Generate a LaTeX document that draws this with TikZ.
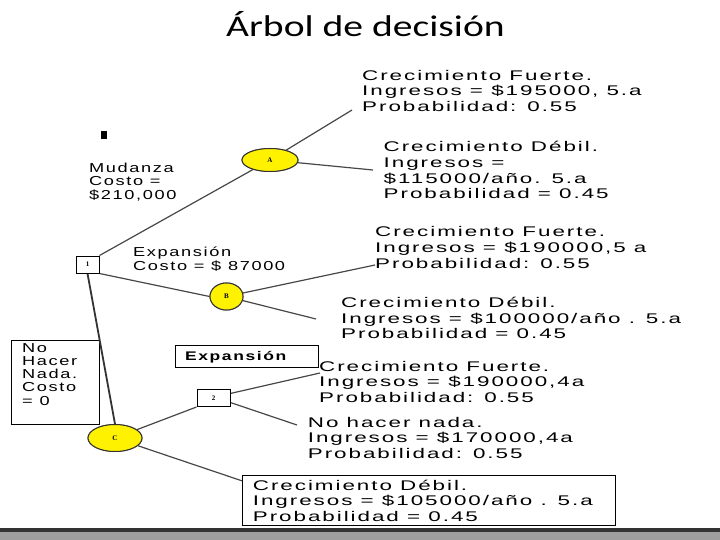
\documentclass[tikz,border=0pt]{standalone}
\usepackage{fontspec}
\setmainfont{Carlito}
\newfontfamily\titlefont[FakeStretch=1.32]{Carlito}
\newfontfamily\arialw[FakeStretch=1.6,LetterSpace=14]{Liberation Sans}
\newfontfamily\arials[FakeStretch=1.4,LetterSpace=12.5]{Liberation Sans}
\newfontfamily\tagfont{Liberation Serif}
\usetikzlibrary{shapes.geometric}

\tikzset{branch/.style={draw=black!72, line width=1.2pt}}
\tikzset{trunk/.style={draw=black!80, line width=1.8pt}}
\tikzset{chance/.style={ellipse, draw=black!80, fill=yellow, line width=1pt, inner sep=0pt,
                        font=\tagfont\bfseries\fontsize{7}{7}\selectfont}}
\tikzset{decision/.style={rectangle, draw=black, line width=1pt, fill=white, inner sep=0pt,
                          font=\tagfont\bfseries\fontsize{7}{7}\selectfont}}
\tikzset{frame/.style={draw, line width=1pt, anchor=north west, inner sep=0pt}}
% multi-line texts are placed by the baseline of their last line
\tikzset{outcome/.style={anchor=base west, align=left, inner sep=0pt,
                         font=\arialw\fontsize{14}{15.8}\selectfont}}
\tikzset{cost/.style={anchor=base west, align=left, inner sep=0pt,
                      font=\arials\fontsize{13}{13.5}\selectfont}}

\begin{document}
\begin{tikzpicture}[x=1pt, y=-1pt]
\useasboundingbox (0,0) rectangle (720,540);

%title
\node[font=\titlefont\fontsize{30}{34}\selectfont, anchor=base] (title) at (365.5,37) {Árbol de decisión};
\node[fill=black, minimum width=6pt, minimum height=8pt, inner sep=0pt] (mark) at (103.7,134.7) {};

%decision and chance nodes
\node[decision, minimum width=23pt, minimum height=17pt] (d1) at (87.5,264.5) {1};
\node[decision, minimum width=33pt, minimum height=17pt] (d2) at (213.5,398) {2};
\node[chance, minimum width=56pt, minimum height=23pt] (cA) at (270,160) {A};
\node[chance, minimum width=33pt, minimum height=27pt] (cB) at (226.5,296.5) {B};
\node[chance, minimum width=54pt, minimum height=27pt] (cC) at (115,438) {C};

%costs
\node[cost] (mudanza) at (89,199.5) {Mudanza\\Costo =\\\$210,000};
\node[cost, font=\arials\fontsize{13}{14}\selectfont] (expansion) at (133,270.7) {Expansión\\Costo = \$ 87000};
\node[frame, minimum width=88pt, minimum height=84pt] (nobox) at (11,340) {};
\node[cost, font=\arials\fontsize{13}{13.1}\selectfont] (nohacer) at (22,405) {No\\Hacer\\Nada.\\Costo\\= 0};
\node[frame, minimum width=143pt, minimum height=22pt] (expbox) at (175,345) {};
\node[anchor=base west, inner sep=0pt, font=\arials\bfseries\fontsize{12.5}{13}\selectfont] (exptext) at (185,360) {Expansión};

%outcomes
\node[outcome] (t1) at (362,111.7) {Crecimiento Fuerte.\\Ingresos = \$195000, 5.a\\Probabilidad: 0.55};
\node[outcome] (t2) at (383.5,199) {Crecimiento Débil.\\Ingresos =\\\$115000/año. 5.a\\Probabilidad = 0.45};
\node[outcome] (t3) at (375,268.3) {Crecimiento Fuerte.\\Ingresos = \$190000,5 a\\Probabilidad: 0.55};
\node[outcome, font=\arialw\fontsize{14}{15.3}\selectfont] (t4) at (341,338.3) {Crecimiento Débil.\\Ingresos = \$100000/año . 5.a\\Probabilidad = 0.45};
\node[outcome] (t5) at (319,402.7) {Crecimiento Fuerte.\\Ingresos = \$190000,4a\\Probabilidad: 0.55};
\node[outcome, font=\arialw\fontsize{14}{15.5}\selectfont] (t6) at (307.7,458.3) {No hacer nada.\\Ingresos = \$170000,4a\\Probabilidad: 0.55};
\node[frame, minimum width=373pt, minimum height=50pt] (t7box) at (242,475) {};
\node[outcome, font=\arialw\fontsize{14}{15.5}\selectfont] (t7) at (252.7,521) {Crecimiento Débil.\\Ingresos = \$105000/año . 5.a\\Probabilidad = 0.45};

%branch ends
\coordinate (a1) at (352,110);
\coordinate (a2) at (373,170);
\coordinate (b1) at (375,265);
\coordinate (b2) at (316,319);
\coordinate (e1) at (320,373);
\coordinate (e2) at (297,425);

%branches
\draw[branch] (d1.north east) -- (cA);
\draw[branch] (cA) -- (a1);
\draw[branch] (cA) -- (a2);
\draw[branch] (d1.south east) -- (cB.west);
\draw[branch] (cB) -- (b1);
\draw[branch] (cB) -- (b2);
\draw[trunk] (d1.south) -- (cC.north);
\draw[branch] (cC) -- (d2.south west);
\draw[branch] (cC) -- (t7box.174);
\draw[branch] (d2.15) -- (e1);
\draw[branch] (d2.-15) -- (e2);

%redraw nodes on top
\node[decision, minimum width=23pt, minimum height=17pt] at (d1) {1};
\node[decision, minimum width=33pt, minimum height=17pt] at (d2) {2};
\node[chance, minimum width=56pt, minimum height=23pt] at (cA) {A};
\node[chance, minimum width=33pt, minimum height=27pt] at (cB) {B};
\node[chance, minimum width=54pt, minimum height=27pt] at (cC) {C};

%bottom bar
\fill[black!80] (0,528.3) rectangle (720,531.7);
\fill[black!38] (0,531.7) rectangle (720,540);

\end{tikzpicture}
\end{document}
